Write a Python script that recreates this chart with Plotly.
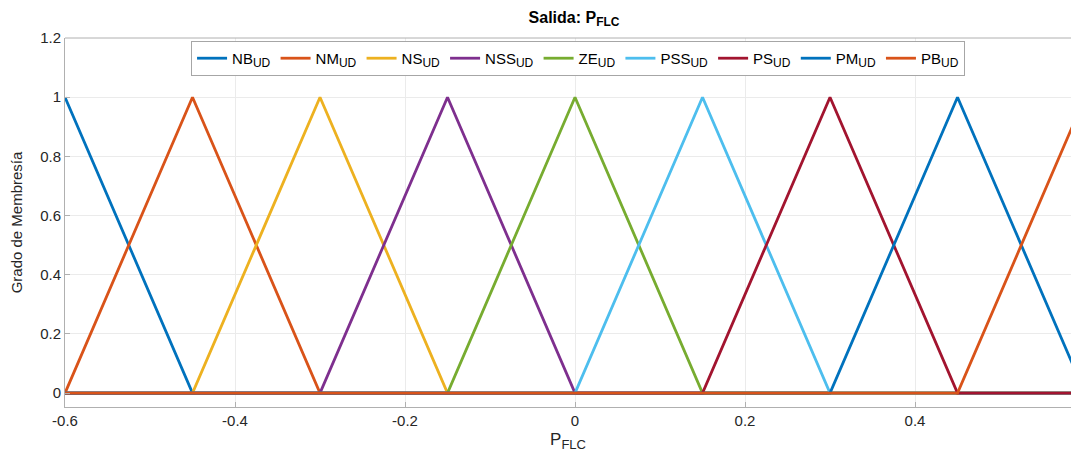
import plotly.graph_objects as go

# Membership function breakpoints for the output P_FLC
x_grid = [-0.6, -0.45, -0.3, -0.15, 0.0, 0.15, 0.3, 0.45, 0.6]

labels = ["NB", "NM", "NS", "NSS", "ZE", "PSS", "PS", "PM", "PB"]

NB = [1, 0, 0, 0, 0, 0, 0, 0, 0]
NM = [0, 1, 0, 0, 0, 0, 0, 0, 0]
NS = [0, 0, 1, 0, 0, 0, 0, 0, 0]
NSS = [0, 0, 0, 1, 0, 0, 0, 0, 0]
ZE = [0, 0, 0, 0, 1, 0, 0, 0, 0]
PSS = [0, 0, 0, 0, 0, 1, 0, 0, 0]
PS = [0, 0, 0, 0, 0, 0, 1, 0, 0]
PM = [0, 0, 0, 0, 0, 0, 0, 1, 0]
PB = [0, 0, 0, 0, 0, 0, 0, 0, 1]

series = [NB, NM, NS, NSS, ZE, PSS, PS, PM, PB]

colors = ["#0072BD", "#D95319", "#EDB120", "#7E2F8E", "#77AC30",
          "#4DBEEE", "#A2142F", "#0072BD", "#D95319"]

x_ticks = [-0.6, -0.4, -0.2, 0, 0.2, 0.4, 0.6]
y_ticks = [0, 0.2, 0.4, 0.6, 0.8, 1, 1.2]

FONT = "Liberation Sans, Arial, Helvetica, sans-serif"
TXT = "#262626"


def sub(text, size):
    return f'<sub><span style="font-size:{size}px">{text}</span></sub>'


fig = go.Figure()
for name, vals, col in zip(labels, series, colors):
    fig.add_trace(go.Scatter(
        x=x_grid, y=vals, mode="lines",
        name=f"{name}{sub('UD', 12)}",
        line=dict(color=col, width=2.8),
    ))

fig.update_layout(
    width=1071, height=452,
    margin=dict(l=65, r=0, t=38, b=45),
    paper_bgcolor="white", plot_bgcolor="white",
    font=dict(family=FONT, size=14, color=TXT),
    title=dict(
        text=f"<b>Salida: P{sub('FLC', 12)}</b>",
        x=0.536, xanchor="center", y=0.962, yanchor="middle",
        font=dict(family=FONT, size=16, color="#000000"),
    ),
    showlegend=True,
    legend=dict(
        orientation="h", x=0.51, xanchor="center", y=0.992, yanchor="top",
        bgcolor="white", bordercolor="#a6a6a6", borderwidth=1,
        font=dict(family=FONT, size=15, color="#000000"),
        itemwidth=30, tracegroupgap=0,
    ),
    xaxis=dict(
        range=[-0.6, 0.5835], tickvals=x_ticks,
        ticktext=[f"{v:g}" for v in x_ticks],
        showgrid=True, gridcolor="#ebebeb", gridwidth=1,
        showline=True, linecolor="#b0b0b0", linewidth=1,
        ticks="inside", ticklen=5, tickcolor="#b0b0b0",
        zeroline=False, mirror=False,
        tickfont=dict(size=15, color=TXT),
        title=dict(text=f"P{sub('FLC', 13)}", font=dict(size=17, color=TXT), standoff=6),
    ),
    yaxis=dict(
        range=[-0.047, 1.2], tickvals=y_ticks,
        ticktext=[f"{v:g}" for v in y_ticks],
        showgrid=True, gridcolor="#ebebeb", gridwidth=1,
        showline=True, linecolor="#b0b0b0", linewidth=1,
        ticks="inside", ticklen=5, tickcolor="#b0b0b0",
        zeroline=False,
        tickfont=dict(size=15, color=TXT),
        title=dict(text="Grado de Membresía", font=dict(size=15, color=TXT), standoff=13),
    ),
)

# top border of the axes box
fig.add_shape(type="line", xref="paper", yref="paper", x0=0, x1=1, y0=1, y1=1,
              line=dict(color="#b0b0b0", width=1))

fig.write_html("out.html")
